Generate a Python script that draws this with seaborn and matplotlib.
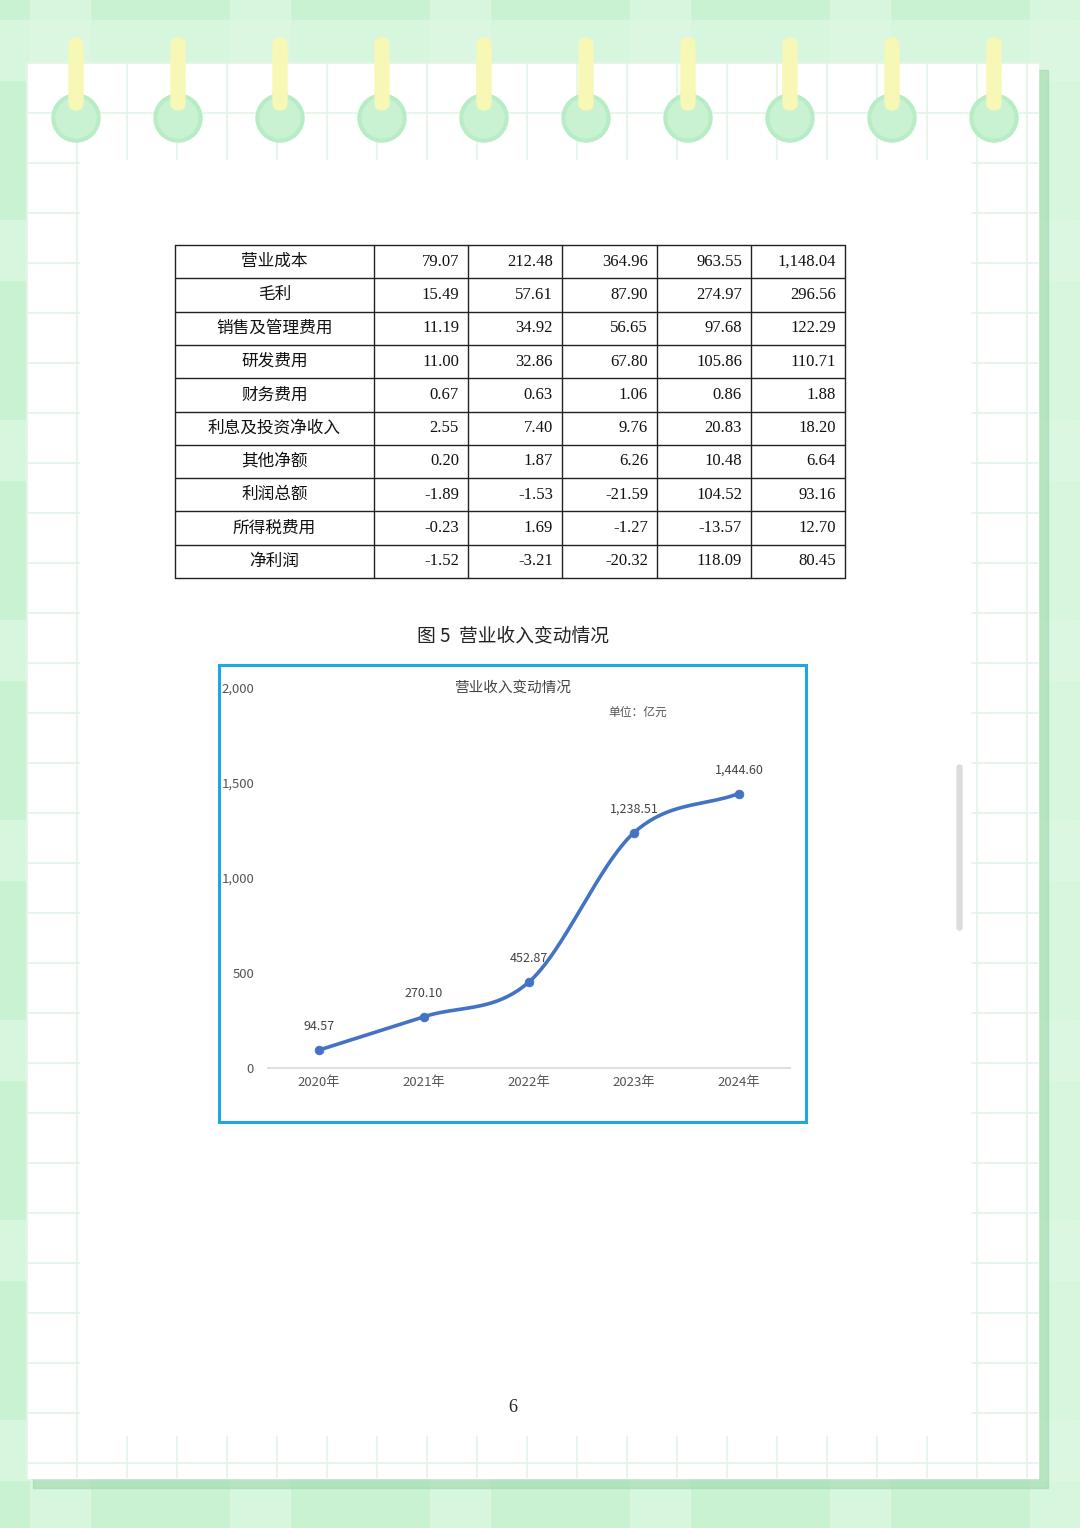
import numpy as np
import seaborn as sns
import matplotlib.pyplot as plt
from matplotlib.patches import Rectangle, Circle, FancyBboxPatch

sns.set_theme(style="white")
plt.rcParams['font.family'] = ['Noto Sans CJK SC', 'DejaVu Sans']

row_labels = ['营业成本', '毛利', '销售及管理费用', '研发费用', '财务费用',
              '利息及投资净收入', '其他净额', '利润总额', '所得税费用', '净利润']
table_values = [
    ['79.07', '212.48', '364.96', '963.55', '1,148.04'],
    ['15.49', '57.61', '87.90', '274.97', '296.56'],
    ['11.19', '34.92', '56.65', '97.68', '122.29'],
    ['11.00', '32.86', '67.80', '105.86', '110.71'],
    ['0.67', '0.63', '1.06', '0.86', '1.88'],
    ['2.55', '7.40', '9.76', '20.83', '18.20'],
    ['0.20', '1.87', '6.26', '10.48', '6.64'],
    ['-1.89', '-1.53', '-21.59', '104.52', '93.16'],
    ['-0.23', '1.69', '-1.27', '-13.57', '12.70'],
    ['-1.52', '-3.21', '-20.32', '118.09', '80.45'],
]
years = ['2020年', '2021年', '2022年', '2023年', '2024年']
revenue = [94.57, 270.10, 452.87, 1238.51, 1444.60]
y_ticks = [0, 500, 1000, 1500, 2000]

W, H = 1080, 1528
fig = plt.figure(figsize=(W / 100, H / 100), dpi=100)
bg = fig.add_axes([0, 0, 1, 1])
bg.set_xlim(0, W)
bg.set_ylim(H, 0)
bg.axis('off')

# plaid background
bg.add_patch(Rectangle((0, 0), W, H, color='#c9f2d3', zorder=0))
for x in range(0, W, 200):
    bg.add_patch(Rectangle((x + 30, 0), 60, H, color='#e0f9e6', alpha=0.6, zorder=0))
for y in range(0, H, 200):
    bg.add_patch(Rectangle((0, y + 20), W, 60, color='#e0f9e6', alpha=0.6, zorder=0))

# page with shadow
bg.add_patch(Rectangle((33, 70), 1015, 1418, color='#9fd9ad', alpha=0.6, zorder=1))
bg.add_patch(Rectangle((27, 63), 1011, 1415, color='white', zorder=2))
for x in np.arange(27, 1038, 50):
    bg.plot([x, x], [63, 1478], color='#e3f4e7', lw=1.2, zorder=2)
for y in np.arange(63, 1478, 50):
    bg.plot([27, 1038], [y, y], color='#e3f4e7', lw=1.2, zorder=2)
bg.add_patch(Rectangle((80, 160), 890, 1275, color='white', zorder=2))
# scrollbar
bg.add_patch(FancyBboxPatch((957, 765), 5, 165, boxstyle='round,pad=0,rounding_size=2.5',
                            color='#dcdcdc', zorder=3))

# rings
for i in range(10):
    cx = 76 + i * 102
    bg.add_patch(Circle((cx, 118), 24, color='#b8ecc5', zorder=3))
    bg.add_patch(Circle((cx, 118), 20, color='#c9f2d3', zorder=3))
    bg.add_patch(FancyBboxPatch((cx - 7, 38), 14, 72, boxstyle='round,pad=0,rounding_size=7',
                                color='#f7f7b6', zorder=4))

# table
col_edges = [175, 374, 468, 562, 657, 751, 845]
top, rh = 245, 33.3
for r, label in enumerate(row_labels):
    y0 = top + r * rh
    yc = y0 + rh / 2
    bg.text((col_edges[0] + col_edges[1]) / 2, yc, label, ha='center', va='center',
            fontsize=12, color='#111111', zorder=5)
    for c, v in enumerate(table_values[r]):
        bg.text(col_edges[c + 2] - 9, yc, v, ha='right', va='center', fontsize=12,
                family=['Liberation Serif'], color='#111111', zorder=5)
for r in range(len(row_labels) + 1):
    bg.plot([col_edges[0], col_edges[-1]], [top + r * rh] * 2, color='#222222', lw=1, zorder=5)
for x in col_edges:
    bg.plot([x, x], [top, top + rh * len(row_labels)], color='#222222', lw=1, zorder=5)

bg.text(513, 636, '图 5  营业收入变动情况', ha='center', va='center', fontsize=13.5,
        color='#222222', zorder=5)
bg.text(513, 1407, '6', ha='center', va='center', fontsize=13,
        family=['Liberation Serif'], color='#222222', zorder=5)

# chart frame
bg.add_patch(Rectangle((219, 665), 587, 457, fill=False, ec='#1ea7e1', lw=2.2, zorder=5))
bg.text(513, 688, '营业收入变动情况', ha='center', va='center', fontsize=10.5, color='#444444', zorder=5)
bg.text(638, 712, '单位：亿元', ha='center', va='center', fontsize=8.5, color='#555555', zorder=5)

# chart axes: x pixels 268..790, y 0 at 1068, 2000 at 688
ax = fig.add_axes([268 / W, 1 - 1068 / H, (790 - 268) / W, (1068 - 688) / H])
ax.patch.set_alpha(0)
xs = np.arange(len(years))
ax.set_xlim(-0.486, 4.486)
ax.set_ylim(0, 2000)

# smooth curve (Catmull-Rom through data points)
pts = np.column_stack([xs, revenue]).astype(float)
ext = np.vstack([2 * pts[0] - pts[1], pts, 2 * pts[-1] - pts[-2]])
sx, sy = [], []
for i in range(1, len(ext) - 2):
    p0, p1, p2, p3 = ext[i - 1], ext[i], ext[i + 1], ext[i + 2]
    t = np.linspace(0, 1, 40)[:, None]
    seg = 0.5 * ((2 * p1) + (-p0 + p2) * t + (2 * p0 - 5 * p1 + 4 * p2 - p3) * t ** 2
                 + (-p0 + 3 * p1 - 3 * p2 + p3) * t ** 3)
    sx.extend(seg[:, 0]); sy.extend(seg[:, 1])
sns.lineplot(x=sx, y=sy, ax=ax, color='#4472c4', lw=2.6, sort=False)
sns.scatterplot(x=xs, y=revenue, ax=ax, color='#4472c4', s=40, edgecolor='#4472c4', zorder=5)
for x, v in zip(xs, revenue):
    ax.text(x, v + 90, f'{v:,.2f}', ha='center', va='bottom', fontsize=9, color='#444444')

ax.set_xticks(xs)
ax.set_xticklabels(years, fontsize=9.5, color='#555555')
ax.set_yticks(y_ticks)
ax.set_yticklabels([f'{v:,}' for v in y_ticks], fontsize=9.5, color='#555555')
ax.tick_params(axis='y', length=0, pad=10)
ax.tick_params(axis='x', length=0, pad=6)
for s in ['top', 'right', 'left']:
    ax.spines[s].set_visible(False)
ax.spines['bottom'].set_color('#d9d9d9')
ax.set_xlabel('')
ax.set_ylabel('')

fig.savefig('out.png', dpi=100)
